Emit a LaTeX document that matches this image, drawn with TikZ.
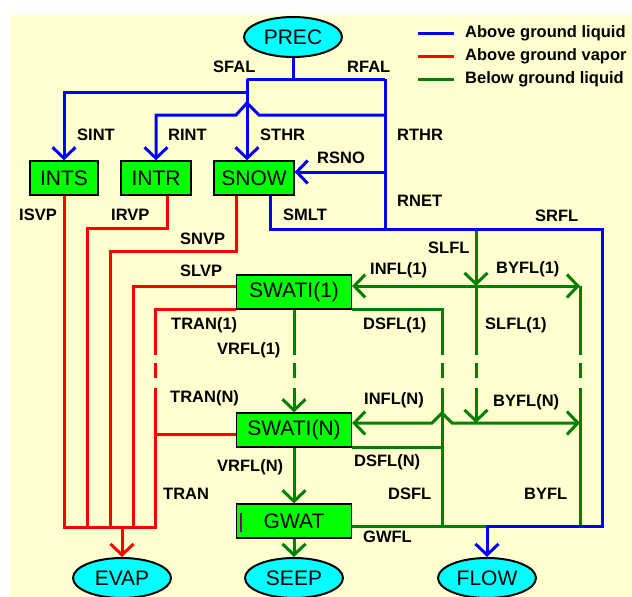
\documentclass[tikz,border=0pt]{standalone}
\usepackage{fontspec}
\setmainfont{Liberation Sans}
\usetikzlibrary{shapes.geometric,arrows.meta}
\definecolor{liqblue}{RGB}{0,0,255}
\definecolor{vapred}{RGB}{255,0,0}
\definecolor{gndgreen}{RGB}{0,128,0}
\definecolor{boxgreen}{RGB}{0,255,0}
\definecolor{ovalcyan}{RGB}{0,255,255}
\definecolor{paleyellow}{RGB}{255,255,208}
\begin{document}
\begin{tikzpicture}[x=1pt,y=-1pt,>={Straight Barb[length=11pt,width=23pt]},
	boxnode/.style={draw=black,line width=1.3pt,fill=boxgreen,minimum height=34pt,inner sep=0,font=\fontsize{21}{22}\selectfont},
	ovalnode/.style={ellipse,draw=black,line width=2pt,fill=ovalcyan,minimum width=98pt,minimum height=40pt,inner sep=0,font=\fontsize{21}{22}\selectfont},
	lbl/.style={anchor=west,inner sep=0,font=\fontsize{16.5}{18}\selectfont\bfseries},
	aliq/.style={draw=liqblue,line width=3pt},
	avap/.style={draw=vapred,line width=3pt},
	bliq/.style={draw=gndgreen,line width=3pt}]
	\fill[white] (0,0) rectangle (632,597);
	\fill[paleyellow] (10,15) rectangle (632,597);
	\useasboundingbox (0,0) rectangle (632,597);
	% stores and sinks
	\node[ovalnode] (prec) at (293,37) {PREC};
	\node[boxnode,minimum width=68pt] (ints) at (64,178) {INTS};
	\node[boxnode,minimum width=70pt] (intr) at (156,178) {INTR};
	\node[boxnode,minimum width=80pt] (snow) at (254,178) {SNOW};
	\node[boxnode,minimum width=115pt] (swati1) at (294,292) {SWATI(1)};
	\node[boxnode,minimum width=115pt] (swatin) at (294,430) {SWATI(N)};
	\node[boxnode,minimum width=115pt] (gwat) at (294,521) {GWAT};
	\node[ovalnode] (evap) at (122,578) {EVAP};
	\node[ovalnode] (seep) at (294,578) {SEEP};
	\node[ovalnode] (flow) at (487,578) {FLOW};
	\draw[draw={rgb,255:red,128;green,0;blue,128},line width=2.5pt] (241,513) -- (241,532);
	% junctions
	\coordinate (fal) at (293,79);
	\coordinate (sfal) at (247,79);
	\coordinate (rfal) at (385,79);
	\coordinate (sint) at (247,92);
	\coordinate (hop) at (247,103);
	\coordinate (rint) at (385,115);
	\coordinate (rsno) at (385,172);
	\coordinate (rnet) at (385,229);
	\coordinate (smlt) at (270,229);
	\coordinate (srfl) at (602,229);
	\coordinate (rflo) at (602,526);
	\coordinate (irvp) at (167,228);
	\coordinate (snvp) at (236,251);
	\coordinate (slvp) at (133,286);
	\coordinate (evl) at (64,527);
	\coordinate (evr) at (155,527);
	\coordinate (evtop) at (122,527);
	\coordinate (tranN) at (155,434);
	\coordinate (slfl) at (476,229);
	\coordinate (inf1) at (476,286);
	\coordinate (byf1) at (580,286);
	\coordinate (slfN) at (476,423);
	\coordinate (hopN) at (442,413);
	\coordinate (byfN) at (580,423);
	\coordinate (byfl) at (580,526);
	\coordinate (dsfl) at (442,526);
	\coordinate (gwfl) at (488,526);
	% below ground liquid
	\draw[bliq,->] (slfl) -- (inf1);
	\draw[bliq,<->] (swati1.east |- inf1) -- (byf1);
	\draw[bliq] (inf1) -- (476,355);
	\draw[bliq,->] (476,388) -- (slfN);
	\draw[bliq] (byf1) -- (580,355);
	\draw[bliq] (580,388) -- (byfl);
	\draw[bliq] (swati1.south east) -| (442,355);
	\draw[bliq] (442,388) -- (dsfl);
	\draw[bliq] (swati1.south) -- (294,355);
	\draw[bliq,->] (294,388) -- (swatin.north);
	\foreach \x in {294,442,476,580}
		\draw[bliq] (\x,363) -- (\x,378);
	\draw[bliq,<->] (swatin.east |- hopN) ++(0,10) -- (432,423) -- (hopN) -- (452,423) -- (byfN);
	\draw[bliq] (swatin.south east) -- (swatin.south east -| dsfl);
	\draw[bliq,->] (swatin) -- (gwat);
	\draw[bliq,->] (gwat) -- (seep);
	\draw[bliq] (gwat.east |- gwfl) -- (gwfl);
	% above ground vapor
	\draw[avap] (ints.south) -- (evl) -- (evr) -- (155,388);
	\draw[avap] (intr.south -| irvp) -- (irvp) -| (87,527);
	\draw[avap] (snow.south -| snvp) -- (snvp) -| (110,527);
	\draw[avap] (swati1.west |- slvp) -- (slvp) -- (133,527);
	\draw[avap] (swati1.south west) -| (155,355);
	\draw[avap] (155,363) -- (155,378);
	\draw[avap] (swatin.west |- tranN) -- (tranN);
	\draw[avap,->] (evtop) -- (evap);
	% above ground liquid
	\draw[aliq] (prec) -- (fal);
	\draw[aliq] (sfal) -- (rfal);
	\draw[aliq,->] (sint) -| (ints.north);
	\draw[aliq,->] (sfal) -- (snow.north -| sfal);
	\draw[aliq,->] (rint) -- (259,115) -- (hop) -- (236,115) -| (intr.north);
	\draw[aliq] (rfal) -- (rnet);
	\draw[aliq,->] (rsno) -- (snow.east |- rsno);
	\draw[aliq,->] (snow.south -| smlt) -- (smlt) -- (srfl) -- (rflo) -| (flow.north);
	% flux names
	\node[lbl] at (213,67) {SFAL};
	\node[lbl] at (347,67) {RFAL};
	\node[lbl] at (77,135) {SINT};
	\node[lbl] at (168,135) {RINT};
	\node[lbl] at (260,135) {STHR};
	\node[lbl] at (397,135) {RTHR};
	\node[lbl] at (317,158) {RSNO};
	\node[lbl] at (397,201) {RNET};
	\node[lbl] at (535,216) {SRFL};
	\node[lbl] at (283,215) {SMLT};
	\node[lbl] at (19,215) {ISVP};
	\node[lbl] at (111,215) {IRVP};
	\node[lbl] at (180,239) {SNVP};
	\node[lbl] at (180,271) {SLVP};
	\node[lbl] at (428,248) {SLFL};
	\node[lbl] at (370,270) {INFL(1)};
	\node[lbl] at (496,269) {BYFL(1)};
	\node[lbl] at (171,325) {TRAN(1)};
	\node[lbl] at (363,325) {DSFL(1)};
	\node[lbl] at (485,325) {SLFL(1)};
	\node[lbl] at (217,350) {VRFL(1)};
	\node[lbl] at (170,398) {TRAN(N)};
	\node[lbl] at (364,400) {INFL(N)};
	\node[lbl] at (493,402) {BYFL(N)};
	\node[lbl] at (217,467) {VRFL(N)};
	\node[lbl] at (354,462) {DSFL(N)};
	\node[lbl] at (163,494) {TRAN};
	\node[lbl] at (388,494) {DSFL};
	\node[lbl] at (524,494) {BYFL};
	\node[lbl] at (363,537) {GWFL};
	% legend
	\foreach \y/\c/\t in {33/liqblue/Above ground liquid,56/vapred/Above ground vapor,79/gndgreen/Below ground liquid}{
		\draw[\c,line width=3pt] (418,\y) -- (454,\y);
		\node[lbl] at (465,\y) {\t};
	}
\end{tikzpicture}
\end{document}
